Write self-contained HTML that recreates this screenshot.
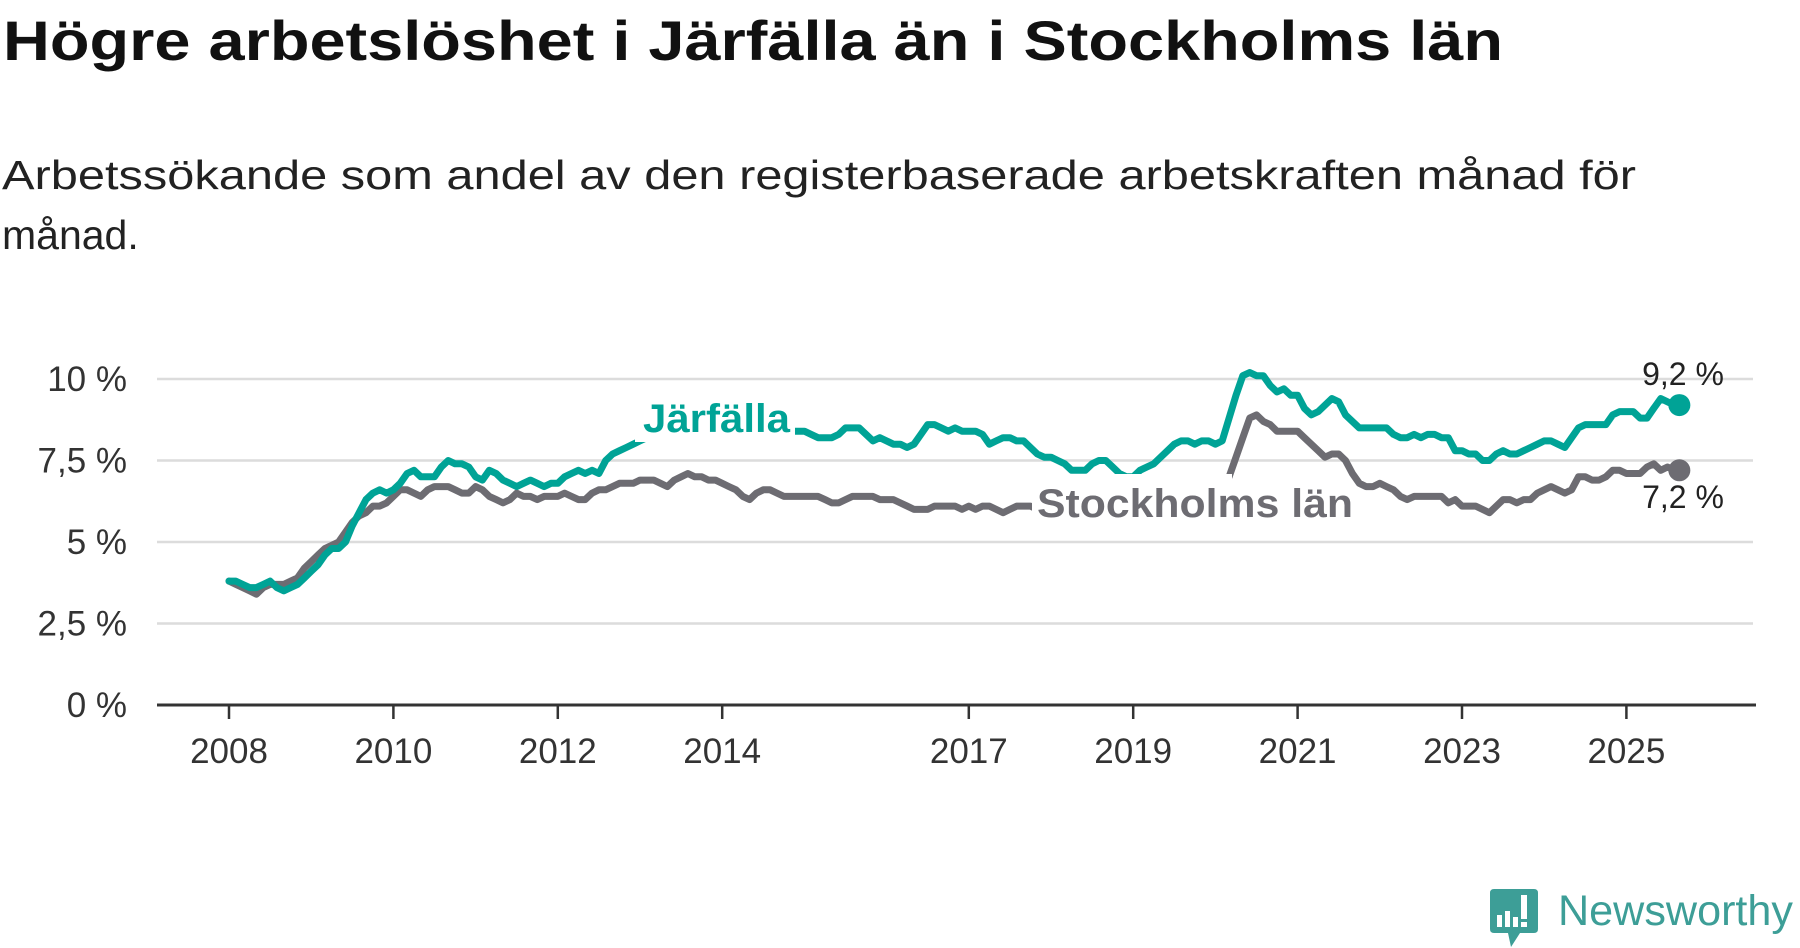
<!DOCTYPE html>
<html><head><meta charset="utf-8"><style>
html,body{margin:0;padding:0;background:#fff;}
svg{display:block;}
text{font-family:"Liberation Sans","DejaVu Sans",sans-serif;}
</style></head>
<body>
<svg id="chart" width="1800" height="948" viewBox="0 0 1800 948">
<text x="3" y="60" font-size="56" font-weight="bold" fill="#111" textLength="1500" lengthAdjust="spacingAndGlyphs">Högre arbetslöshet i Järfälla än i Stockholms län</text>
<text x="2" y="189" font-size="41" fill="#222" textLength="1634" lengthAdjust="spacingAndGlyphs">Arbetssökande som andel av den registerbaserade arbetskraften månad för</text>
<text x="2" y="249" font-size="41" fill="#222">månad.</text>
<g id="grid"></g>
<g id="yticks"></g>
<g id="xticks"></g>
<g id="series"></g>
<g>
<path d="M1494 889 H1534 Q1538 889 1538 893 V929 Q1538 933 1534 933 H1520 L1511 947 L1508 933 H1494 Q1490 933 1490 929 V893 Q1490 889 1494 889 Z" fill="#3d9e97"/>
<rect x="1497" y="915" width="5" height="12" fill="#fff"/>
<rect x="1505" y="911" width="5" height="16" fill="#fff"/>
<rect x="1513" y="917" width="5" height="10" fill="#fff"/>
<rect x="1521" y="895" width="6" height="24" fill="#fff"/>
<rect x="1521" y="922" width="6" height="5" fill="#fff"/>
<text x="1558" y="925" font-size="43" fill="#3d9e97" textLength="235" lengthAdjust="spacingAndGlyphs">Newsworthy</text>
</g>
</svg>
<script>
const yTicks = [0, 2.5, 5, 7.5, 10];
const yTickLabels = ["0 %", "2,5 %", "5 %", "7,5 %", "10 %"];
const xTickYears = [2008, 2010, 2012, 2014, 2017, 2019, 2021, 2023, 2025];
const startYear = 2008;
const jarfalla = [
3.8,3.8,3.7,3.6,3.6,3.7,3.8,3.6,3.5,3.6,3.7,3.9,
4.1,4.3,4.6,4.8,4.8,5.0,5.5,5.9,6.3,6.5,6.6,6.5,
6.6,6.8,7.1,7.2,7.0,7.0,7.0,7.3,7.5,7.4,7.4,7.3,
7.0,6.9,7.2,7.1,6.9,6.8,6.7,6.8,6.9,6.8,6.7,6.8,
6.8,7.0,7.1,7.2,7.1,7.2,7.1,7.5,7.7,7.8,7.9,8.0,
8.1,8.2,8.3,8.3,8.4,8.4,8.5,8.5,8.4,8.4,8.3,8.3,
8.3,8.4,8.4,8.5,8.5,8.4,8.4,8.3,8.3,8.4,8.4,8.4,
8.4,8.3,8.2,8.2,8.2,8.3,8.5,8.5,8.5,8.3,8.1,8.2,
8.1,8.0,8.0,7.9,8.0,8.3,8.6,8.6,8.5,8.4,8.5,8.4,
8.4,8.4,8.3,8.0,8.1,8.2,8.2,8.1,8.1,7.9,7.7,7.6,
7.6,7.5,7.4,7.2,7.2,7.2,7.4,7.5,7.5,7.3,7.1,7.0,
7.0,7.2,7.3,7.4,7.6,7.8,8.0,8.1,8.1,8.0,8.1,8.1,
8.0,8.1,8.8,9.5,10.1,10.2,10.1,10.1,9.8,9.6,9.7,9.5,
9.5,9.1,8.9,9.0,9.2,9.4,9.3,8.9,8.7,8.5,8.5,8.5,
8.5,8.5,8.3,8.2,8.2,8.3,8.2,8.3,8.3,8.2,8.2,7.8,
7.8,7.7,7.7,7.5,7.5,7.7,7.8,7.7,7.7,7.8,7.9,8.0,
8.1,8.1,8.0,7.9,8.2,8.5,8.6,8.6,8.6,8.6,8.9,9.0,
9.0,9.0,8.8,8.8,9.1,9.4,9.3,9.2];
const stockholm = [
3.8,3.7,3.6,3.5,3.4,3.6,3.7,3.7,3.7,3.8,3.9,4.2,
4.4,4.6,4.8,4.9,5.0,5.3,5.6,5.8,5.9,6.1,6.1,6.2,
6.4,6.6,6.6,6.5,6.4,6.6,6.7,6.7,6.7,6.6,6.5,6.5,
6.7,6.6,6.4,6.3,6.2,6.3,6.5,6.4,6.4,6.3,6.4,6.4,
6.4,6.5,6.4,6.3,6.3,6.5,6.6,6.6,6.7,6.8,6.8,6.8,
6.9,6.9,6.9,6.8,6.7,6.9,7.0,7.1,7.0,7.0,6.9,6.9,
6.8,6.7,6.6,6.4,6.3,6.5,6.6,6.6,6.5,6.4,6.4,6.4,
6.4,6.4,6.4,6.3,6.2,6.2,6.3,6.4,6.4,6.4,6.4,6.3,
6.3,6.3,6.2,6.1,6.0,6.0,6.0,6.1,6.1,6.1,6.1,6.0,
6.1,6.0,6.1,6.1,6.0,5.9,6.0,6.1,6.1,6.1,6.0,5.9,
5.9,5.8,5.8,5.8,5.8,5.8,5.9,5.9,5.8,5.7,5.7,5.6,
5.6,5.7,5.8,5.9,6.0,6.1,6.3,6.5,6.5,6.4,6.5,6.5,
6.3,6.5,7.0,7.6,8.2,8.8,8.9,8.7,8.6,8.4,8.4,8.4,
8.4,8.2,8.0,7.8,7.6,7.7,7.7,7.5,7.1,6.8,6.7,6.7,
6.8,6.7,6.6,6.4,6.3,6.4,6.4,6.4,6.4,6.4,6.2,6.3,
6.1,6.1,6.1,6.0,5.9,6.1,6.3,6.3,6.2,6.3,6.3,6.5,
6.6,6.7,6.6,6.5,6.6,7.0,7.0,6.9,6.9,7.0,7.2,7.2,
7.1,7.1,7.1,7.3,7.4,7.2,7.3,7.2];
const endLabels = ["9,2 %", "7,2 %"];

const NS = "http://www.w3.org/2000/svg";
const X0 = 229, PX_YEAR = 82.2, Y0 = 705, PX_UNIT = 32.6;
const xScale = t => X0 + (t - startYear) * PX_YEAR;
const yScale = v => Y0 - v * PX_UNIT;
function mk(tag, attrs, parent) {
  const e = document.createElementNS(NS, tag);
  for (const k in attrs) e.setAttribute(k, attrs[k]);
  parent.appendChild(e);
  return e;
}
const grid = document.getElementById('grid');
const yt = document.getElementById('yticks');
yTicks.forEach((v, i) => {
  if (v > 0) {
    const l = mk('line', {x1:157, x2:1753, y1:yScale(v), y2:yScale(v), stroke:'#dcdcdc', 'stroke-width':2.5}, grid);
    
    
  }
  const t = mk('text', {x:127, y:yScale(v)+12, 'font-size':35, fill:'#333', 'text-anchor':'end'}, yt);
  t.textContent = yTickLabels[i];
  
  
});
const xt = document.getElementById('xticks');
const ax = mk('line', {x1:157, x2:1756, y1:705, y2:705, stroke:'#333', 'stroke-width':3}, xt);


xTickYears.forEach(yr => {
  const x = xScale(yr);
  const tk = mk('line', {x1:x, x2:x, y1:705, y2:719, stroke:'#333', 'stroke-width':2.5}, xt);
  
  
  const t = mk('text', {x:x, y:763, 'font-size':35, fill:'#333', 'text-anchor':'middle'}, xt);
  t.textContent = yr;
  
  
});
const sg = document.getElementById('series');
function drawSeries(data, color, name) {
  const pts = data.map((v, i) => xScale(startYear + i/12).toFixed(1) + ',' + yScale(v).toFixed(1)).join(' ');
  const p = mk('polyline', {points:pts, fill:'none', stroke:color, 'stroke-width':7, 'stroke-linejoin':'round', 'stroke-linecap':'round'}, sg);
  
  
  const n = data.length - 1;
  const c = mk('circle', {cx:xScale(startYear + n/12)+5, cy:yScale(data[n]), r:11, fill:color}, sg);
  
  
}
drawSeries(stockholm, '#6d6c72', 'stockholm');
drawSeries(jarfalla, '#00a396', 'jarfalla');
const r1 = mk('rect', {x:635, y:390, width:160, height:52, fill:'#fff'}, sg);


const l1 = mk('text', {x:643, y:432, 'font-size':40, 'font-weight':'bold', fill:'#00a396', textLength:147, lengthAdjust:'spacingAndGlyphs'}, sg);
l1.textContent = 'Järfälla';


const r2 = mk('rect', {x:1032, y:474, width:200, height:56, fill:'#fff'}, sg);


const l2 = mk('text', {x:1037, y:517, 'font-size':40, 'font-weight':'bold', fill:'#6d6c72', textLength:316, lengthAdjust:'spacingAndGlyphs'}, sg);
l2.textContent = 'Stockholms län';


const e1 = mk('text', {x:1683, y:385, 'font-size':32, fill:'#222', 'text-anchor':'middle'}, sg);
e1.textContent = endLabels[0];


const e2 = mk('text', {x:1683, y:508, 'font-size':32, fill:'#222', 'text-anchor':'middle'}, sg);
e2.textContent = endLabels[1];


</script>
</body></html>
